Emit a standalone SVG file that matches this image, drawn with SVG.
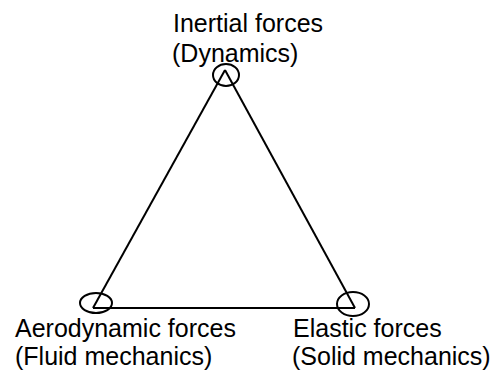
<svg xmlns="http://www.w3.org/2000/svg" width="494" height="373" viewBox="0 0 494 373">
<style>
.t{font-family:"Liberation Sans",Arial,sans-serif;font-size:25px;fill:#000}
.e{fill:none;stroke:#000;stroke-width:2}
.l{fill:none;stroke:#000;stroke-width:2;stroke-linejoin:miter}
</style>
<rect width="494" height="373" fill="#fff"/>
<g id="connectors">
<line class="l" x1="225" y1="70" x2="93" y2="308"/>
<line class="l" x1="225" y1="70" x2="355" y2="308"/>
<line class="l" x1="93" y1="308" x2="355" y2="308"/>
</g>
<g id="inertial">
<ellipse class="e" cx="226" cy="75" rx="13" ry="11"/>
<text class="t" x="173" y="32">Inertial forces</text>
<text class="t" x="172" y="62">(Dynamics)</text>
</g>
<g id="aerodynamic">
<ellipse class="e" cx="96" cy="303" rx="16" ry="10"/>
<text class="t" x="15" y="337">Aerodynamic forces</text>
<text class="t" x="15" y="365">(Fluid mechanics)</text>
</g>
<g id="elastic">
<ellipse class="e" cx="353" cy="304" rx="16" ry="12"/>
<text class="t" x="293" y="337">Elastic forces</text>
<text class="t" x="292" y="365">(Solid mechanics)</text>
</g>
</svg>
